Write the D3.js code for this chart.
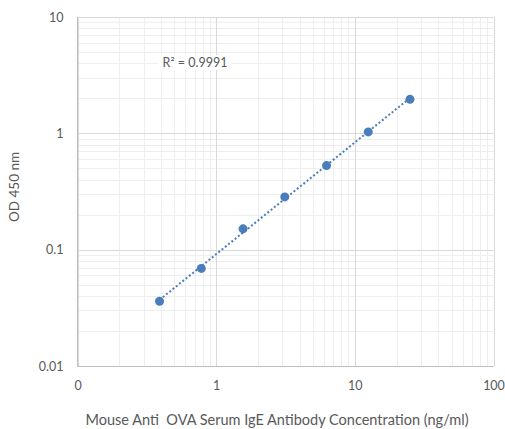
<!DOCTYPE html>
<html><head><meta charset="utf-8">
<script src="https://cdn.jsdelivr.net/npm/d3@7"></script>
<style>body{margin:0;background:#fff}text{font-family:Lato,"Open Sans",sans-serif;fill:#595959}</style>
</head><body><svg id="c" width="505" height="429"></svg>
<script>
const concentrations = [0.390625, 0.78125, 1.5625, 3.125, 6.25, 12.5, 25];
const odValues = [0.036, 0.069, 0.151, 0.284, 0.528, 1.028, 1.96];
const xTickValues = [0.1, 1, 10, 100];
const xTickLabels = ["0", "1", "10", "100"];
const yTickValues = [0.01, 0.1, 1, 10];
const yTickLabels = ["0.01", "0.1", "1", "10"];
const r2Label = "R² = 0.9991";
const xTitle = "Mouse Anti  OVA Serum IgE Antibody Concentration (ng/ml)";
const yTitle = "OD 450 nm";

const svg = d3.select("#c");
const L = 77.5, R = 493.5, T = 17, B = 366;
const x = d3.scaleLog().domain([0.1, 100]).range([L, R]);
const y = d3.scaleLog().domain([0.01, 10]).range([B, T]);

function minors(lo, hi) {
  const out = [];
  for (let d = lo; d < hi; d *= 10) for (let k = 2; k <= 9; k++) out.push(d * k);
  return out;
}
const g = svg.append("g");
g.selectAll(".mx").data(minors(0.1, 100)).enter().append("line")
  .attr("x1", d => Math.round(x(d)) + 0.5).attr("x2", d => Math.round(x(d)) + 0.5)
  .attr("y1", T).attr("y2", B).attr("stroke", "#eeeeee").attr("stroke-width", 1);
g.selectAll(".my").data(minors(0.01, 10)).enter().append("line")
  .attr("y1", d => Math.round(y(d)) + 0.5).attr("y2", d => Math.round(y(d)) + 0.5)
  .attr("x1", L).attr("x2", R).attr("stroke", "#eeeeee").attr("stroke-width", 1);
g.selectAll(".Mx").data(xTickValues).enter().append("line")
  .attr("x1", d => Math.round(x(d)) + 0.5).attr("x2", d => Math.round(x(d)) + 0.5)
  .attr("y1", T).attr("y2", B).attr("stroke", "#d9d9d9").attr("stroke-width", 1);
g.selectAll(".My").data(yTickValues).enter().append("line")
  .attr("y1", d => Math.round(y(d)) + 0.5).attr("y2", d => Math.round(y(d)) + 0.5)
  .attr("x1", L).attr("x2", R).attr("stroke", "#d9d9d9").attr("stroke-width", 1);
g.append("line").attr("x1", L).attr("x2", L).attr("y1", T).attr("y2", B + 0.5).attr("stroke", "#bfbfbf");
g.append("line").attr("x1", L).attr("x2", R).attr("y1", B + 0.5).attr("y2", B + 0.5).attr("stroke", "#bfbfbf");

const xAxis = d3.axisBottom(x).tickValues(xTickValues).tickFormat((d, i) => xTickLabels[i]).tickSize(0).tickPadding(15);
const xa = svg.append("g").attr("transform", `translate(0,${B})`).call(xAxis);
const yAxis = d3.axisLeft(y).tickValues(yTickValues).tickFormat((d, i) => yTickLabels[i]).tickSize(0).tickPadding(14);
const ya = svg.append("g").attr("transform", `translate(${L},0)`).call(yAxis);
[xa, ya].forEach(a => { a.select(".domain").remove(); a.selectAll("text").style("font-family", "Lato,'Open Sans',sans-serif").style("font-size", "12.5px").attr("fill", "#595959"); });

// trendline (power fit in log space)
const lx = concentrations.map(Math.log10), ly = odValues.map(Math.log10);
const mx = d3.mean(lx), my = d3.mean(ly);
const b = d3.sum(lx.map((v, i) => (v - mx) * (ly[i] - my))) / d3.sum(lx.map(v => (v - mx) ** 2));
const a = my - b * mx;
const x0 = concentrations[0], x1 = concentrations[concentrations.length - 1];
svg.append("line")
  .attr("x1", x(x0)).attr("y1", y(Math.pow(10, a + b * Math.log10(x0))))
  .attr("x2", x(x1)).attr("y2", y(Math.pow(10, a + b * Math.log10(x1))))
  .attr("stroke", "#4a7ebb").attr("stroke-width", 2).attr("stroke-dasharray", "2,2.2");

svg.selectAll(".pt").data(concentrations).enter().append("circle")
  .attr("cx", d => x(d)).attr("cy", (d, i) => y(odValues[i])).attr("r", 4.5)
  .attr("fill", "#4a7ebb");

const lbl = svg.append("g");
const t = lbl.append("text").attr("x", 195).attr("y", 67).attr("text-anchor", "middle")
  .style("font-size", "12.5px").text(r2Label);
const bb = t.node().getBBox();
lbl.insert("rect", "text").attr("x", bb.x - 4).attr("y", bb.y).attr("width", bb.width + 8).attr("height", bb.height).attr("fill", "#fff");

svg.append("text").attr("x", 277).attr("y", 425).attr("text-anchor", "middle")
  .style("font-size", "14.5px").style("white-space", "pre").text(xTitle);
svg.append("text").attr("transform", "translate(19,187) rotate(-90)").attr("text-anchor", "middle")
  .style("font-size", "13.5px").text(yTitle);
</script></body></html>
